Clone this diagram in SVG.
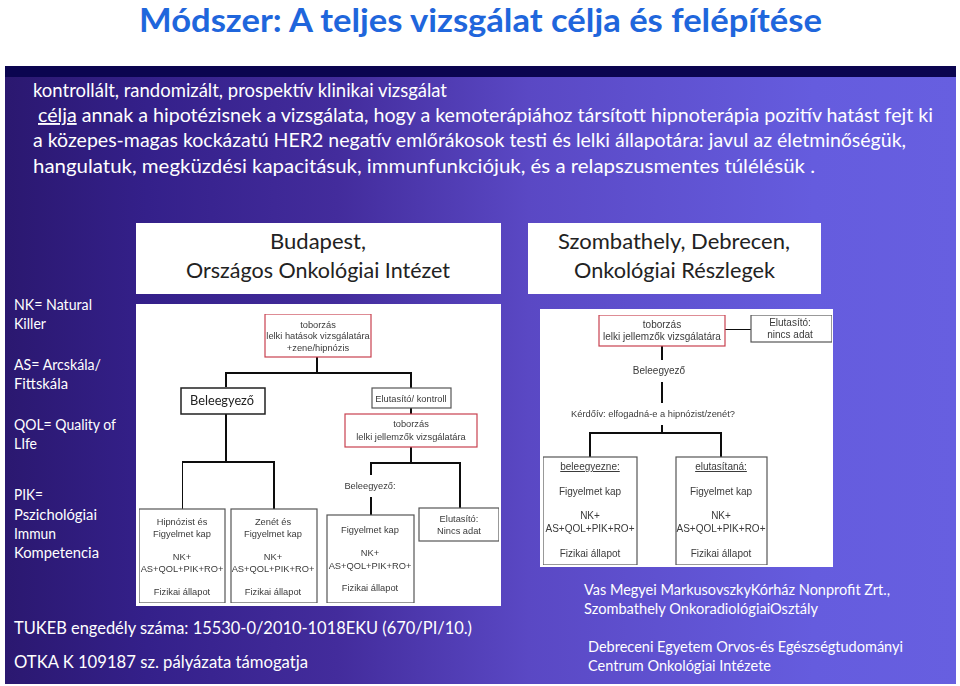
<svg xmlns="http://www.w3.org/2000/svg" width="960" height="686" viewBox="0 0 960 686">
<defs>
<linearGradient id="bg" x1="0" y1="0" x2="1" y2="0"><stop offset="0" stop-color="#2b1870"/><stop offset="0.15" stop-color="#34208a"/><stop offset="0.35" stop-color="#432c9c"/><stop offset="0.55" stop-color="#5a48c4"/><stop offset="0.85" stop-color="#655cde"/><stop offset="1" stop-color="#675fe0"/></linearGradient>
<filter id="soft" x="0" y="0" width="1" height="1"><feGaussianBlur stdDeviation="0.3"/></filter>
</defs>
<style>
text{font-family:"Lato","Open Sans","Liberation Sans",sans-serif}
.sm{font-size:14.5px;fill:#fff}
.hd{font-size:21px;fill:#222}
.m{font-size:19px;fill:#fff}
.ft{font-size:17px;fill:#fff}
.f{font-family:"Liberation Sans",Arial,sans-serif;font-size:9.3px;fill:#3a3a3a;text-anchor:middle}
#chart-right .f{font-size:10px}
#chart-right #n-kerdoiv{font-size:9.3px}
.box{fill:#fff;stroke:#555;stroke-width:1.2}
.red{fill:#fff;stroke:#c8404f;stroke-width:1.2}
.pn{fill:#fff}
.c{fill:none;stroke:#111;stroke-width:2}
</style>
<rect width="960" height="686" fill="#fff"/>
<rect x="5" y="66" width="951" height="618" fill="url(#bg)"/>
<rect x="5" y="66" width="951" height="11" fill="#0b0550"/>
<text id="title" x="139" y="32" font-size="32" font-weight="700" fill="#1f66dc" textLength="683" lengthAdjust="spacingAndGlyphs">Módszer: A teljes vizsgálat célja és felépítése</text>
<g id="intro">
<text class="m" x="33" y="97" textLength="414" lengthAdjust="spacingAndGlyphs">kontrollált, randomizált, prospektív klinikai vizsgálat</text>
<text class="m" x="38" y="122" textLength="895" lengthAdjust="spacingAndGlyphs"><tspan text-decoration="underline">célja</tspan> annak a hipotézisnek a vizsgálata, hogy a kemoterápiához társított hipnoterápia pozitív hatást fejt ki</text>
<text class="m" x="33" y="147" textLength="873" lengthAdjust="spacingAndGlyphs">a közepes-magas kockázatú HER2 negatív emlőrákosok testi és lelki állapotára: javul az életminőségük,</text>
<text class="m" x="33" y="173" textLength="782" lengthAdjust="spacingAndGlyphs">hangulatuk, megküzdési kapacitásuk, immunfunkciójuk, és a relapszusmentes túlélésük .</text>
</g>
<g id="head-budapest"><rect class="pn" x="136" y="223" width="365" height="71"/><text class="hd" x="270" y="249" textLength="96" lengthAdjust="spacingAndGlyphs">Budapest,</text><text class="hd" x="186" y="278" textLength="264" lengthAdjust="spacingAndGlyphs">Országos Onkológiai Intézet</text></g>
<g id="head-szombathely"><rect class="pn" x="528" y="223" width="293" height="71"/><text class="hd" x="558" y="249" textLength="232" lengthAdjust="spacingAndGlyphs">Szombathely, Debrecen,</text><text class="hd" x="574" y="278" textLength="201" lengthAdjust="spacingAndGlyphs">Onkológiai Részlegek</text></g>
<g id="legend">
<text class="sm" x="14" y="310" textLength="78" lengthAdjust="spacingAndGlyphs">NK= Natural</text><text class="sm" x="14" y="329" textLength="32" lengthAdjust="spacingAndGlyphs">Killer</text>
<text class="sm" x="14" y="370" textLength="87" lengthAdjust="spacingAndGlyphs">AS= Arcskála/</text><text class="sm" x="14" y="389" textLength="54" lengthAdjust="spacingAndGlyphs">Fittskála</text>
<text class="sm" x="14" y="430" textLength="102" lengthAdjust="spacingAndGlyphs">QOL= Quality of</text><text class="sm" x="14" y="449" textLength="23" lengthAdjust="spacingAndGlyphs">LIfe</text>
<text class="sm" x="14" y="500" textLength="29" lengthAdjust="spacingAndGlyphs">PIK=</text><text class="sm" x="14" y="520" textLength="83" lengthAdjust="spacingAndGlyphs">Pszichológiai</text><text class="sm" x="14" y="539" textLength="42" lengthAdjust="spacingAndGlyphs">Immun</text><text class="sm" x="14" y="558" textLength="85" lengthAdjust="spacingAndGlyphs">Kompetencia</text>
</g>
<rect class="pn" x="136" y="304" width="365" height="302"/>
<rect class="pn" x="540" y="309" width="293" height="258"/>
<g id="connectors" filter="url(#soft)">
<path class="c" d="M317 357V373M226 387V373H411V388M411 408V414M226 414V462M182 509V462H274V509M411 447V463M371 475V463H460V508M371 497V515"/>
<path class="c" d="M662 346V360M662 382V403M662 425V433M590 457V433H721V457M725 329H751"/>
</g>
<g id="chart-left" filter="url(#soft)">
<g id="n-toborzas1"><rect class="red" x="265" y="314" width="106" height="43"/><text class="f" x="318" y="328">toborzás</text><text class="f" x="318" y="339">lelki hatások vizsgálatára</text><text class="f" x="318" y="351">+zene/hipnózis</text></g>
<g id="n-beleegyezo"><rect x="181" y="388" width="84" height="26" fill="#fff" stroke="#222" stroke-width="1.5"/><text x="222" y="405" font-size="13" text-anchor="middle" fill="#222" textLength="64" lengthAdjust="spacingAndGlyphs">Beleegyező</text></g>
<g id="n-elutasito"><rect class="box" x="372" y="388" width="79" height="20"/><text class="f" x="411" y="402">Elutasító/ kontroll</text></g>
<g id="n-toborzas2"><rect class="red" x="345" y="414" width="132" height="33"/><text class="f" x="411" y="427">toborzás</text><text class="f" x="411" y="440">lelki jellemzők vizsgálatára</text></g>
<g id="n-hipnozis"><rect class="box" x="139" y="509" width="86" height="94"/><text class="f" x="182" y="525">Hipnózist és</text><text class="f" x="182" y="537">Figyelmet kap</text><text class="f" x="182" y="560">NK+</text><text class="f" x="182" y="572">AS+QOL+PIK+RO+</text><text class="f" x="182" y="595">Fizikai állapot</text></g>
<g id="n-zene"><rect class="box" x="231" y="509" width="86" height="94"/><text class="f" x="273" y="525">Zenét és</text><text class="f" x="273" y="537">Figyelmet kap</text><text class="f" x="273" y="560">NK+</text><text class="f" x="273" y="572">AS+QOL+PIK+RO+</text><text class="f" x="273" y="595">Fizikai állapot</text></g>
<g id="n-beleegyezo2"><text class="f" x="370" y="489">Beleegyező:</text><rect class="box" x="327" y="515" width="87" height="88"/><text class="f" x="370" y="533">Figyelmet kap</text><text class="f" x="370" y="556">NK+</text><text class="f" x="370" y="569">AS+QOL+PIK+RO+</text><text class="f" x="370" y="591">Fizikai állapot</text></g>
<g id="n-elutasito2"><rect class="box" x="419" y="508" width="80" height="33"/><text class="f" x="459" y="522">Elutasító:</text><text class="f" x="459" y="534">Nincs adat</text></g>
</g>
<g id="chart-right" filter="url(#soft)">
<g id="n-toborzas3"><rect class="red" x="599" y="315" width="126" height="31"/><text class="f" x="662" y="328">toborzás</text><text class="f" x="662" y="340">lelki jellemzők vizsgálatára</text></g>
<g id="n-elutasito3"><rect class="box" x="751" y="315" width="81" height="27"/><text class="f" x="790" y="326">Elutasító:</text><text class="f" x="790" y="338">nincs adat</text></g>
<text id="n-beleegyezo3" class="f" x="659" y="374">Beleegyező</text>
<text id="n-kerdoiv" class="f" x="653" y="417">Kérdőív: elfogadná-e a hipnózist/zenét?</text>
<g id="n-beleegyezne"><rect class="box" x="543" y="457" width="94" height="108"/><text class="f" x="590" y="470" text-decoration="underline">beleegyezne:</text><text class="f" x="590" y="495">Figyelmet kap</text><text class="f" x="590" y="519">NK+</text><text class="f" x="590" y="532">AS+QOL+PIK+RO+</text><text class="f" x="590" y="557">Fizikai állapot</text></g>
<g id="n-elutasitana"><rect class="box" x="676" y="457" width="91" height="108"/><text class="f" x="721" y="470" text-decoration="underline">elutasítaná:</text><text class="f" x="721" y="495">Figyelmet kap</text><text class="f" x="721" y="519">NK+</text><text class="f" x="721" y="532">AS+QOL+PIK+RO+</text><text class="f" x="721" y="557">Fizikai állapot</text></g>
</g>
<g id="footer">
<text class="ft" x="14" y="634" textLength="458" lengthAdjust="spacingAndGlyphs">TUKEB engedély száma: 15530-0/2010-1018EKU (670/PI/10.)</text>
<text class="ft" x="14" y="668" textLength="294" lengthAdjust="spacingAndGlyphs">OTKA K 109187 sz. pályázata támogatja</text>
<text class="sm" x="584" y="595" textLength="306" lengthAdjust="spacingAndGlyphs">Vas Megyei MarkusovszkyKórház Nonprofit Zrt.,</text>
<text class="sm" x="584" y="614" textLength="234" lengthAdjust="spacingAndGlyphs">Szombathely OnkoradiológiaiOsztály</text>
<text class="sm" x="588" y="652" textLength="315" lengthAdjust="spacingAndGlyphs">Debreceni Egyetem Orvos-és Egészségtudományi</text>
<text class="sm" x="588" y="671" textLength="183" lengthAdjust="spacingAndGlyphs">Centrum Onkológiai Intézete</text>
</g>
</svg>
